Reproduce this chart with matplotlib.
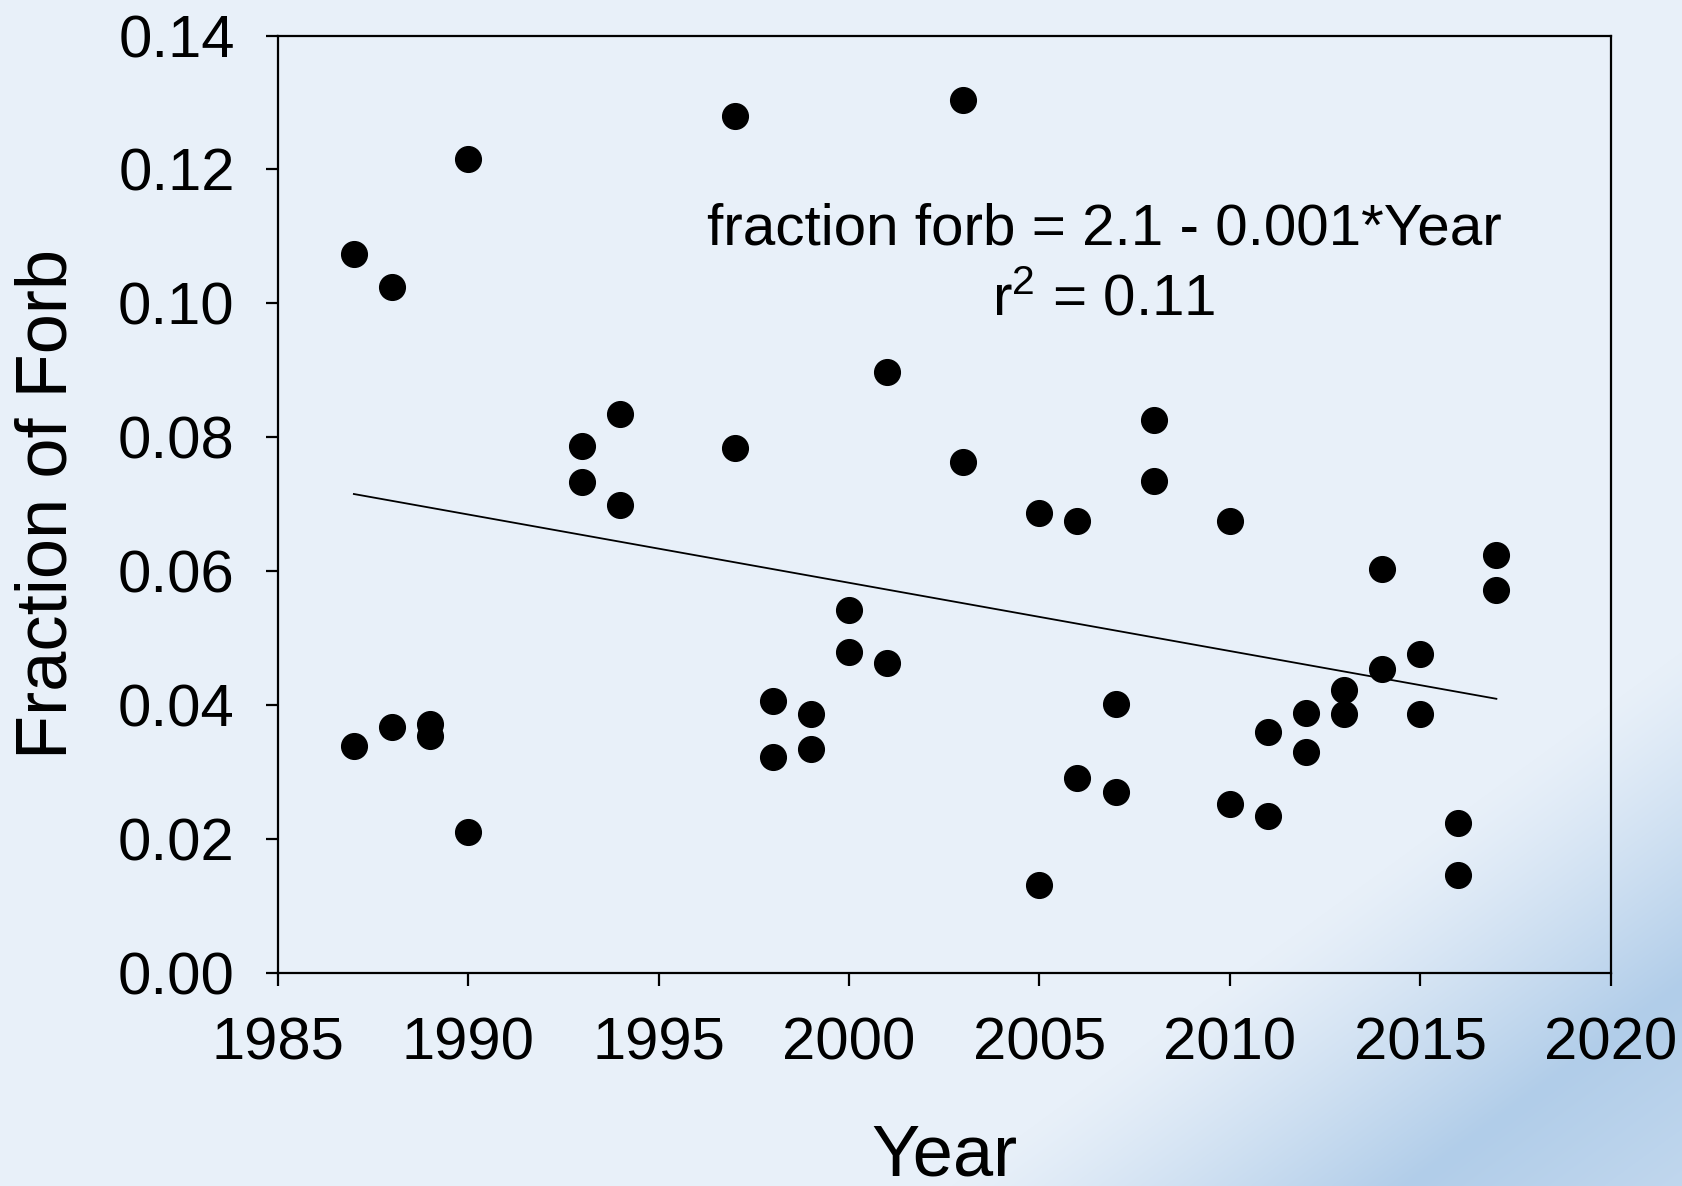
import matplotlib
matplotlib.use('Agg')
import matplotlib.pyplot as plt
import numpy as np

# Data
years = [1987, 1987, 1988, 1988, 1989, 1989, 1990, 1990,
         1993, 1993, 1994, 1994, 1997, 1997, 1998, 1998,
         1999, 1999, 2000, 2000, 2001, 2001, 2003, 2003,
         2005, 2005, 2006, 2006, 2007, 2007, 2008, 2008,
         2010, 2010, 2011, 2011, 2012, 2012, 2013, 2013,
         2014, 2014, 2015, 2015, 2016, 2016, 2017, 2017]
forb = [0.1074, 0.0338, 0.1025, 0.0367, 0.0372, 0.0353, 0.1216, 0.0210,
        0.0787, 0.0733, 0.0834, 0.0699, 0.1280, 0.0784, 0.0406, 0.0322,
        0.0386, 0.0334, 0.0542, 0.0479, 0.0898, 0.0462, 0.1304, 0.0763,
        0.0686, 0.0131, 0.0675, 0.0290, 0.0401, 0.0269, 0.0826, 0.0734,
        0.0674, 0.0252, 0.0359, 0.0234, 0.0388, 0.0329, 0.0422, 0.0386,
        0.0603, 0.0454, 0.0476, 0.0386, 0.0223, 0.0146, 0.0624, 0.0572]

# regression line end points
fit_years = [1987, 2017]
fit_vals = [0.0715, 0.0409]

x_ticks = [1985, 1990, 1995, 2000, 2005, 2010, 2015, 2020]
y_ticks = [0.00, 0.02, 0.04, 0.06, 0.08, 0.10, 0.12, 0.14]

eq_text = 'fraction forb = 2.1 - 0.001*Year'
r2_text = r'$\mathregular{r^2}$ = 0.11'

plt.rcParams['font.family'] = ['Liberation Sans', 'DejaVu Sans']
plt.rcParams['mathtext.fontset'] = 'custom'
plt.rcParams['mathtext.rm'] = 'Liberation Sans'

W, H = 1683, 1186
fig = plt.figure(figsize=(W / 100, H / 100), dpi=100)

# background: light blue with a darker diagonal band in the lower right corner
bg = fig.add_axes([0, 0, 1, 1], zorder=-1)
xx, yy = np.meshgrid(np.arange(W), np.arange(H))
s = ((xx - 950) * 536 + (yy - 1186) * 733) / np.hypot(536, 733)
t = np.where(s < 270, np.clip(s / 270, 0, 1), 1 - 0.25 * (s - 270) / 170)
t = np.clip(t, 0, 1) ** 1.2
t = t[..., None]
light = np.array([0xe8, 0xf0, 0xf9]) / 255
dark = np.array([0xb1, 0xcd, 0xe9]) / 255
bg.imshow(light * (1 - t) + dark * t, aspect='auto', interpolation='bilinear')
bg.axis('off')

ax = fig.add_axes([0.165, 0.180, 0.792, 0.790])
ax.patch.set_alpha(0)

ax.plot(years, forb, 'o', color='black', markersize=18.5, zorder=3)
ax.plot(fit_years, fit_vals, color='black', linewidth=1.3, zorder=2)

ax.set_xlim(1985, 2020)
ax.set_ylim(0, 0.14)
ax.set_xticks(x_ticks)
ax.set_yticks(y_ticks)
ax.set_yticklabels(['%.2f' % v for v in y_ticks])

for sp in ax.spines.values():
    sp.set_linewidth(1.6)
ax.tick_params(axis='both', direction='out', length=9, width=1.6, labelsize=43)
ax.tick_params(axis='x', pad=23)
ax.tick_params(axis='y', pad=22)

ax.set_xlabel('Year', fontsize=52)
ax.set_ylabel('Fraction of Forb', fontsize=52)
ax.xaxis.set_label_coords(0.5, -0.197)
ax.xaxis.label.set_va('center')
ax.yaxis.set_label_coords(-0.1726, 0.5)
ax.yaxis.label.set_va('center')

ax.text(2006.7, 0.1110, eq_text, fontsize=42, ha='center', va='center')
ax.text(2006.7, 0.1004, r2_text, fontsize=42, ha='center', va='center')

plt.savefig('out.png', dpi=100)
plt.close()
